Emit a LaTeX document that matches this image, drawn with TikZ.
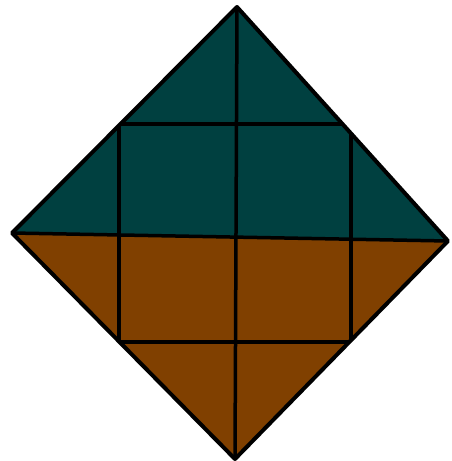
\documentclass[tikz,border=0pt]{standalone}
\usepackage{xcolor}
\definecolor{topc}{HTML}{004040}
\definecolor{botc}{HTML}{804000}

\begin{document}
\begin{tikzpicture}[x=1pt, y=-1pt, line join=round]
  \useasboundingbox (0,0) rectangle (451,461);
  % diamond corners
  \coordinate (top) at (237,7);
  \coordinate (left) at (12,233);
  \coordinate (right) at (448,241);
  \coordinate (bot) at (235,459);
  % inner square, corners cut off by the diamond (ends run past and get clipped)
  \coordinate (hta) at (100,124);
  \coordinate (htb) at (370,124);
  \coordinate (hba) at (100,342);
  \coordinate (hbb) at (370,342);
  \coordinate (vla) at (119,105);
  \coordinate (vlb) at (119,360);
  \coordinate (vra) at (351,105);
  \coordinate (vrb) at (351,360);

  % two halves
  \fill[topc] (left) -- (top) -- (right) -- cycle;
  \fill[botc] (left) -- (bot) -- (right) -- cycle;

  % grid lines, kept inside the diamond
  \begin{scope}
    \clip (top) -- (right) -- (bot) -- (left) -- cycle;
    \draw[line width=3.5pt] (left) -- (right);
    \draw[line width=3.5pt] (top) -- (bot);
    \draw[line width=3.5pt] (hta) -- (htb);
    \draw[line width=3.5pt] (hba) -- (hbb);
    \draw[line width=3.5pt] (vla) -- (vlb);
    \draw[line width=3.5pt] (vra) -- (vrb);
  \end{scope}

  % outline
  \draw[line width=4pt] (top) -- (right) -- (bot) -- (left) -- cycle;
\end{tikzpicture}
\end{document}
